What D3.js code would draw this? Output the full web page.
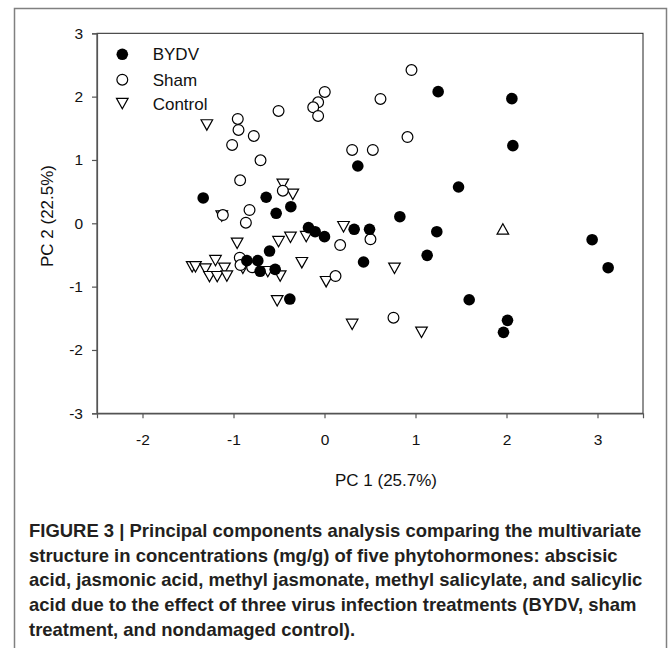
<!DOCTYPE html>
<html><head><meta charset="utf-8">
<script src="https://cdn.jsdelivr.net/npm/d3@7"></script>
<style>body{margin:0;background:#fff}svg{display:block}</style>
</head><body><svg id="c" width="669" height="652"></svg>
<script>
// PC1, PC2 scores per treatment
const bydvX = [-1.333,-0.641,-0.531,-0.37,1.249,2.059,2.07,0.366,1.473,0.828,0.326,0.495,1.234,1.128,0.429,2.941,3.117,1.59,2.011,1.967,-0.176,-0.103,0.0,-0.604,-0.381,-0.853,-0.733,-0.707,-0.542];
const bydvY = [0.40,0.411,0.158,0.262,2.079,1.968,1.226,0.905,0.573,0.104,-0.095,-0.095,-0.133,-0.506,-0.611,-0.259,-0.701,-1.207,-1.532,-1.722,-0.069,-0.133,-0.211,-0.438,-1.196,-0.59,-0.59,-0.758,-0.727];
const shamX = [-0.953,-0.945,-0.777,-1.015,-0.703,-0.927,-0.505,0.003,-0.07,-0.124,-0.07,0.304,0.531,0.956,0.615,0.912,-0.458,-0.824,-1.117,-0.864,0.505,0.172,0.121,0.758,-0.931,-0.923,-0.795];
const shamY = [1.648,1.474,1.379,1.237,0.995,0.679,1.774,2.074,1.911,1.832,1.695,1.158,1.158,2.42,1.963,1.362,0.515,0.21,0.13,0.009,-0.253,-0.343,-0.833,-1.491,-0.543,-0.659,-0.695];
const ctrlX = [-1.293,-0.458,-0.348,-1.129,0.209,0.769,0.304,1.066,-0.201,-0.374,-0.505,-0.96,-0.249,0.018,-0.52,-1.454,-1.418,-1.198,-1.308,-1.099,-1.264,-1.179,-1.073,-0.897,-0.623,-0.487];
const ctrlY = [1.553,0.616,0.458,0.115,-0.054,-0.711,-1.596,-1.722,-0.211,-0.221,-0.29,-0.316,-0.622,-0.922,-1.223,-0.686,-0.686,-0.59,-0.722,-0.711,-0.843,-0.843,-0.833,-0.711,-0.764,-0.833];
const ctrlUpX = [1.96];
const ctrlUpY = [-0.09];
const xTicks = [-2,-1,0,1,2,3];
const yTicks = [-3,-2,-1,0,1,2,3];
const legendLabels = ["BYDV","Sham","Control"];
const xTitle = "PC 1 (25.7%)";
const yTitle = "PC 2 (22.5%)";
const caption = [
 "FIGURE 3 | Principal components analysis comparing the multivariate",
 "structure in concentrations (mg/g) of five phytohormones: abscisic",
 "acid, jasmonic acid, methyl jasmonate, methyl salicylate, and salicylic",
 "acid due to the effect of three virus infection treatments (BYDV, sham",
 "treatment, and nondamaged control)."
];

const svg = d3.select("#c");
const L=97, R=643, T=33.3, B=413.3;
const x = d3.scaleLinear().domain([-2.5,3.5]).range([L,R]);
const y = d3.scaleLinear().domain([-3,3]).range([B,T]);
const font = "Arial, 'Liberation Sans', Helvetica, sans-serif";

// outer frame
svg.append("path").attr("d",`M14.5,648 V8.5 H666.5 V648`).attr("fill","none").attr("stroke","#808080").attr("stroke-width",1.5);

// plot frame
svg.append("rect").attr("x",L).attr("y",T).attr("width",R-L).attr("height",B-T).attr("fill","none").attr("stroke","#222").attr("stroke-width",1);

const xAxis = svg.append("g").attr("transform",`translate(0,${B})`)
  .call(d3.axisBottom(x).tickValues(xTicks).tickSize(5).tickPadding(16).tickFormat(d3.format("d")));
const yAxis = svg.append("g").attr("transform",`translate(${L},0)`)
  .call(d3.axisLeft(y).tickValues(yTicks).tickSize(5).tickPadding(9).tickFormat(d3.format("d")));
[xAxis,yAxis].forEach(a=>{
  a.select(".domain").attr("stroke","#555").attr("stroke-width",1.2);
  a.selectAll(".tick line").attr("stroke","#555").attr("stroke-width",1.2);
  a.selectAll(".tick text").attr("font-family",font).attr("font-size",15.5).attr("fill","#111");
});
xAxis.selectAll(".tick text").text(d=>d<0?"-"+Math.abs(d):d);
yAxis.selectAll(".tick text").text(d=>d<0?"-"+Math.abs(d):d);

svg.append("text").attr("x",386).attr("y",486).attr("text-anchor","middle")
  .attr("font-family",font).attr("font-size",17).attr("fill","#111").text(xTitle);
svg.append("text").attr("transform","translate(53,216) rotate(-90)").attr("text-anchor","middle")
  .attr("font-family",font).attr("font-size",17).attr("fill","#111").text(yTitle);

const r=5.4;
const down = (cx,cy)=>{const w=5.8,h=5.2;return `M${cx-w},${cy-h}L${cx+w},${cy-h}L${cx},${cy+h}Z`;};
const up = (cx,cy)=>{const w=5.8,h=5.2;return `M${cx-w},${cy+h}L${cx+w},${cy+h}L${cx},${cy-h}Z`;};

const g = svg.append("g");
// control
g.selectAll(".ct").data(d3.zip(ctrlX,ctrlY)).join("path")
  .attr("d",d=>down(x(d[0]),y(d[1]))).attr("fill","#fff").attr("stroke","#000").attr("stroke-width",1.2);
g.selectAll(".cu").data(d3.zip(ctrlUpX,ctrlUpY)).join("path")
  .attr("d",d=>up(x(d[0]),y(d[1]))).attr("fill","#fff").attr("stroke","#000").attr("stroke-width",1.2);
// sham
g.selectAll(".sh").data(d3.zip(shamX,shamY)).join("circle")
  .attr("cx",d=>x(d[0])).attr("cy",d=>y(d[1])).attr("r",r).attr("fill","#fff").attr("stroke","#000").attr("stroke-width",1.2);
// bydv
g.selectAll(".by").data(d3.zip(bydvX,bydvY)).join("circle")
  .attr("cx",d=>x(d[0])).attr("cy",d=>y(d[1])).attr("r",r+0.4).attr("fill","#000");

// legend
const lg = svg.append("g");
const ly=[54.3,79.7,103.5];
lg.append("circle").attr("cx",122.3).attr("cy",ly[0]).attr("r",r+0.4).attr("fill","#000");
lg.append("circle").attr("cx",122.3).attr("cy",ly[1]).attr("r",r).attr("fill","#fff").attr("stroke","#000").attr("stroke-width",1.2);
lg.append("path").attr("d",down(122.3,ly[2])).attr("fill","#fff").attr("stroke","#000").attr("stroke-width",1.2);
legendLabels.forEach((t,i)=>lg.append("text").attr("x",152.7).attr("y",ly[i]+6).attr("font-family",font).attr("font-size",17).attr("fill","#111").text(t));

// caption
const cg = svg.append("g");
const capFont = "'Liberation Sans Narrow', 'Arial Narrow', Arial, 'Liberation Sans', sans-serif";
const lines = caption.map((t,i)=>cg.append("text").attr("x",0).attr("y",537+i*24.7)
  .attr("font-family",capFont).attr("font-weight","bold").attr("font-size",18).attr("fill","#231f20").text(t));
const w0 = lines[0].node().getComputedTextLength();
const sx = 613/w0;
cg.attr("transform",`translate(29,0) scale(${sx},1)`);
</script></body></html>
